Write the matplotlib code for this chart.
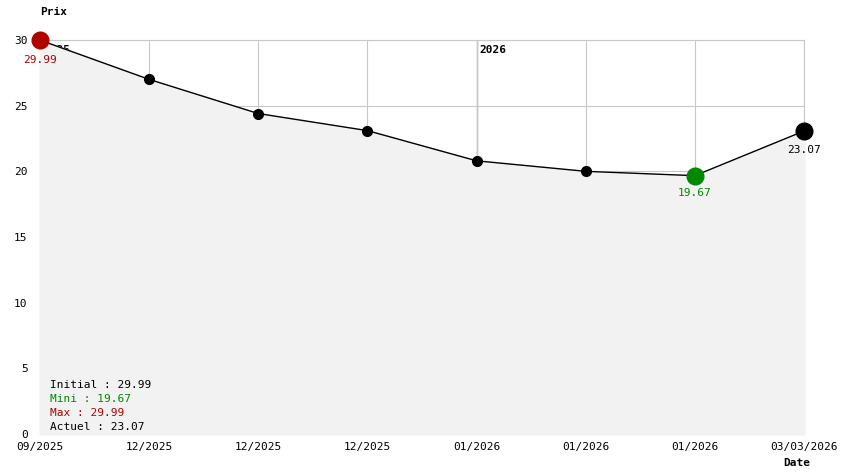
import matplotlib.pyplot as plt
import numpy as np

# Data
dates = ['09/2025', '12/2025', '12/2025', '12/2025', '01/2026', '01/2026', '01/2026', '03/03/2026']
prices = [29.99, 27.0, 24.4, 23.1, 20.8, 20.0, 19.67, 23.07]
y_ticks = [0, 5, 10, 15, 20, 25, 30]

# Style
FONT = 'DejaVu Sans Mono'
GRID_COLOR = '#c8c8c8'
FILL_COLOR = '#f2f2f2'
RED = '#b00000'
GREEN = '#008800'

fig = plt.figure(figsize=(8.44, 4.74), dpi=100)
fig.patch.set_facecolor('white')
ax = fig.add_axes([40 / 844, 40 / 474, 764 / 844, 394 / 474])
ax.set_facecolor('white')

x = np.arange(len(prices))
ax.set_xlim(0, len(prices) - 1)
ax.set_ylim(0, 30)

# grid behind the fill
ax.set_xticks(x)
ax.set_yticks(y_ticks)
ax.grid(True, color=GRID_COLOR, linewidth=0.8, zorder=0)
ax.set_axisbelow(True)

# year separator
ax.axvline(4, color='#999999', linewidth=1, zorder=0.5)
ax.text(4.03, 29.0, '2026', fontsize=8, fontweight='bold', family=FONT, zorder=0.6)
ax.text(0.03, 29.0, '2025', fontsize=8, fontweight='bold', family=FONT, zorder=0.6)

ax.fill_between(x, prices, 0, facecolor=FILL_COLOR, edgecolor=FILL_COLOR,
                linewidth=1.5, zorder=1, clip_on=False)
ax.plot(x, prices, color='black', linewidth=1, zorder=2)

# markers
imin = int(np.argmin(prices))
imax = int(np.argmax(prices))
last = len(prices) - 1
for i, p in enumerate(prices):
    if i == imax:
        ax.plot(i, p, 'o', color=RED, markersize=12, zorder=4, clip_on=False)
    elif i == imin:
        ax.plot(i, p, 'o', color=GREEN, markersize=12, zorder=4, clip_on=False)
    elif i == last:
        ax.plot(i, p, 'o', color='black', markersize=12, zorder=4, clip_on=False)
    else:
        ax.plot(i, p, 'o', color='black', markersize=7, zorder=3)

ax.annotate(f'{prices[imax]:.2f}', (imax, prices[imax]), xytext=(0, -11), textcoords='offset points',
            ha='center', va='top', color=RED, fontsize=8, family=FONT, annotation_clip=False)
ax.annotate(f'{prices[imin]:.2f}', (imin, prices[imin]), xytext=(0, -9), textcoords='offset points',
            ha='center', va='top', color=GREEN, fontsize=8, family=FONT)
ax.annotate(f'{prices[last]:.2f}', (last, prices[last]), xytext=(0, -10), textcoords='offset points',
            ha='center', va='top', color='black', fontsize=8, family=FONT, annotation_clip=False)

# spines
for s in ['left', 'bottom']:
    ax.spines[s].set_visible(False)
for s in ['top', 'right']:
    ax.spines[s].set_color(GRID_COLOR)
    ax.spines[s].set_linewidth(0.8)
    ax.spines[s].set_zorder(0)

ax.tick_params(length=0)
ax.set_xticklabels(dates, fontsize=8, family=FONT)
ax.set_yticklabels([str(t) for t in y_ticks], fontsize=8, family=FONT)
ax.tick_params(axis='y', pad=9)
ax.tick_params(axis='x', pad=6)

# summary box
summary = [
    (f'Initial : {prices[0]:.2f}', 'black'),
    (f'Mini : {prices[imin]:.2f}', GREEN),
    (f'Max : {prices[imax]:.2f}', RED),
    (f'Actuel : {prices[last]:.2f}', 'black'),
]
for k, (txt, col) in enumerate(summary):
    fig.text(50 / 844, 1 - (385 + 14 * k) / 474, txt, color=col, fontsize=8, family=FONT,
             va='center', ha='left')

fig.text(40 / 844, 1 - 12 / 474, 'Prix', fontsize=8, fontweight='bold', family=FONT, va='center')
fig.text(797 / 844, 1 - 463 / 474, 'Date', fontsize=8, fontweight='bold', family=FONT, va='center', ha='center')

fig.savefig('out.png', dpi=100)
